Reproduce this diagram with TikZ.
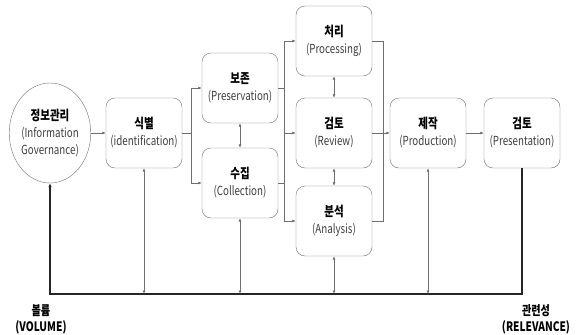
\documentclass[tikz,border=0pt]{standalone}
\usepackage{fontspec}
\setmainfont{Noto Sans CJK KR}[FakeStretch=0.78]
\usetikzlibrary{shapes.geometric,arrows.meta}

\definecolor{edgegray}{RGB}{110,110,110}
\definecolor{subgray}{RGB}{60,60,60}
\newcommand{\stagename}[1]{\fontsize{13.5}{18}\selectfont\bfseries #1}
\newcommand{\stagesub}{\fontsize{12.5}{17}\selectfont\mdseries\color{subgray}}

\begin{document}
\begin{tikzpicture}[x=1pt,y=-1pt]
  \tikzstyle{every node}=[font=\fontsize{12.5}{17}\selectfont]
  \tikzstyle{stage}=[draw=edgegray, rounded corners=9pt, minimum width=76, minimum height=70, align=center, inner sep=1pt]
  \tikzstyle{flow}=[draw=edgegray, line width=0.8pt, >={Latex[length=3.5pt,width=3pt]}]
  \tikzstyle{base}=[draw=black!85, line width=1.3pt, >={Latex[length=4pt,width=3.5pt]}]

  \useasboundingbox (0,0) rectangle (587,335);

  \node[ellipse, draw=edgegray, minimum width=77, minimum height=100, align=center, inner sep=0pt](info) at (50,133) {\stagename{정보관리}\\\stagesub (Information\\\stagesub Governance)};
  \node[stage](ident) at (144,133) {\stagename{식별}\\\stagesub (identification)};
  \node[stage](pres) at (240,88) {\stagename{보존}\\\stagesub (Preservation)};
  \node[stage](coll) at (240,183) {\stagename{수집}\\\stagesub (Collection)};
  \node[stage](proc) at (334,41) {\stagename{처리}\\\stagesub (Processing)};
  \node[stage](rev) at (334,133) {\stagename{검토}\\\stagesub (Review)};
  \node[stage](anal) at (334,221) {\stagename{분석}\\\stagesub (Analysis)};
  \node[stage](prod) at (428,133) {\stagename{제작}\\\stagesub (Production)};
  \node[stage](show) at (522,133) {\stagename{검토}\\\stagesub (Presentation)};

  \node[align=center, font=\fontsize{13}{16}\selectfont\bfseries](vol) at (41,319) {볼륨\\(VOLUME)};
  \node[align=center, font=\fontsize{13}{16}\selectfont\bfseries](rel) at (536,319) {관련성\\(RELEVANCE)};

  \coordinate (s1) at (191,133);
  \coordinate (j1) at (284,133);
  \coordinate (j2) at (383,133);
  \coordinate (b0) at (50,294);

  % main flow
  \draw[flow,->] (info) -- (ident);
  \draw[flow] (ident) -- (s1);
  \draw[flow,->] (s1) |- (pres);
  \draw[flow,->] (s1) |- (coll);
  \draw[flow] (pres) -| (j1);
  \draw[flow] (coll) -| (j1);
  \draw[flow,->] (j1) |- (proc);
  \draw[flow,->] (j1) -- (rev);
  \draw[flow,->] (j1) |- (anal);
  \draw[flow] (proc) -| (j2);
  \draw[flow] (anal) -| (j2);
  \draw[flow,->] (rev) -- (prod);
  \draw[flow,->] (prod) -- (show);

  % links between stages
  \draw[flow,<->] (pres) -- (coll);
  \draw[flow,<->] (proc) -- (rev);
  \draw[flow,<->] (rev) -- (anal);

  % volume / relevance axis
  \draw[base,->] (show) |- (b0) -- (info);
  \foreach \n in {ident,coll,anal,prod}
    \draw[flow,<->] (\n) -- (\n |- b0);
\end{tikzpicture}
\end{document}
